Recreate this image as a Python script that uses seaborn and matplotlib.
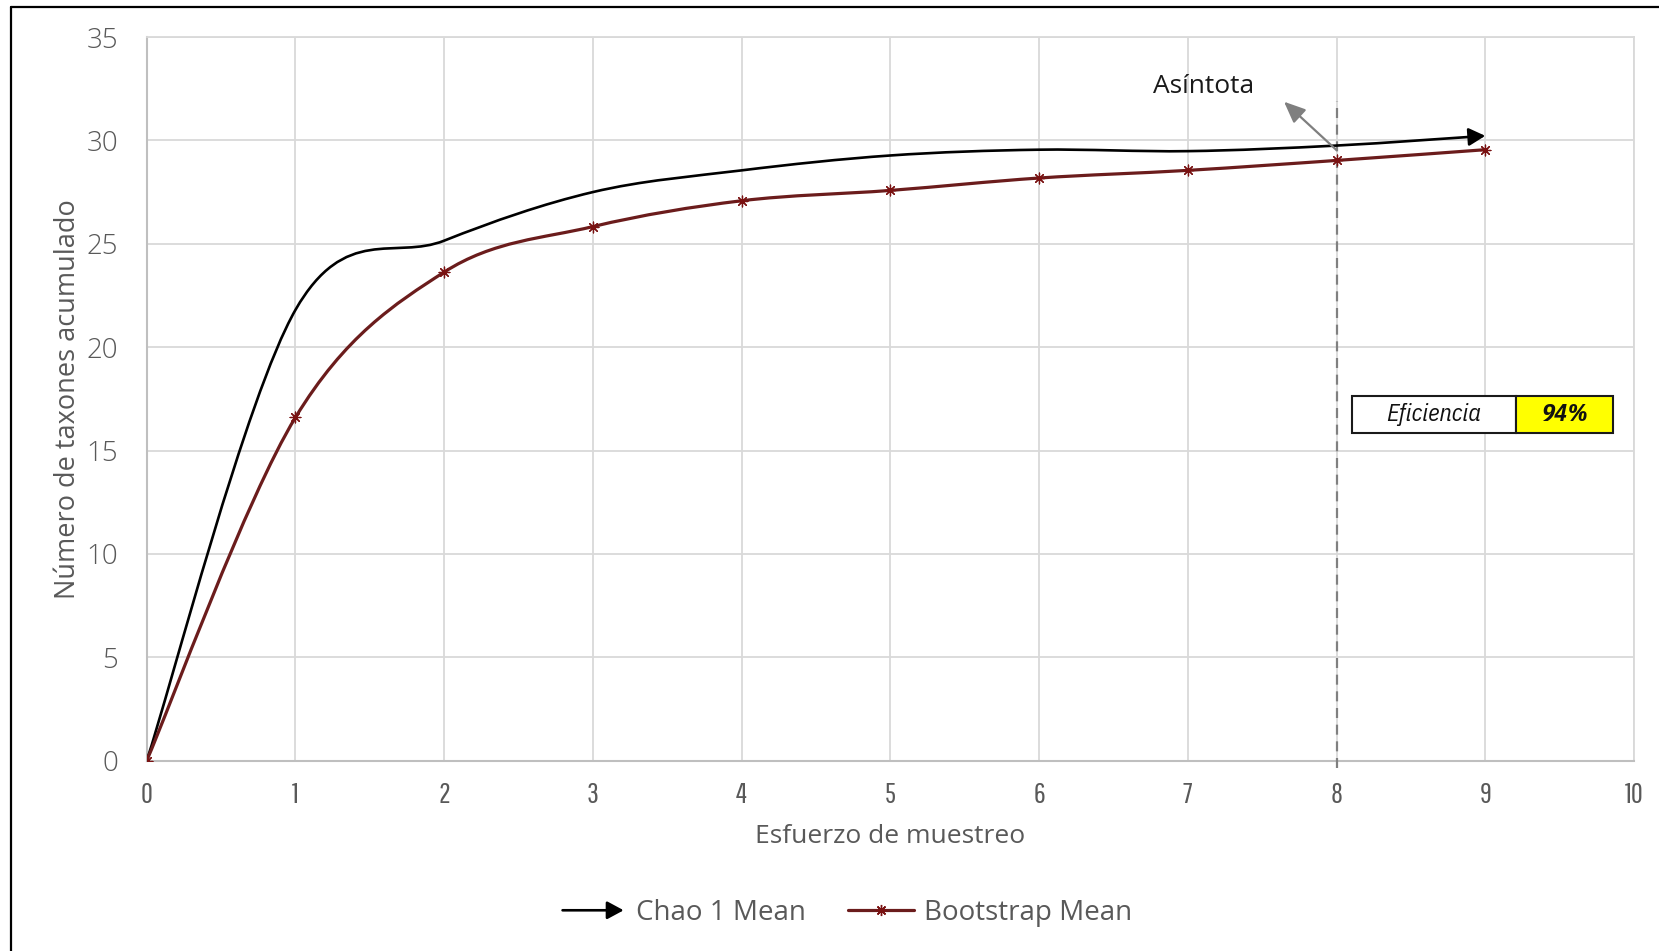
import numpy as np
import pandas as pd
import matplotlib
matplotlib.use("Agg")
import matplotlib.pyplot as plt
import seaborn as sns
from matplotlib.path import Path
from matplotlib.patches import PathPatch, FancyArrowPatch
from matplotlib.lines import Line2D
from matplotlib.legend_handler import HandlerBase

# ---------------- data ----------------
esfuerzo = [0, 1, 2, 3, 4, 5, 6, 7, 8, 9]
chao1_mean = [0, 21.8, 25.15, 27.5, 28.55, 29.27, 29.55, 29.48, 29.75, 30.22]
bootstrap_mean = [0, 16.6, 23.63, 25.83, 27.08, 27.58, 28.18, 28.55, 29.03, 29.55]
series_names = ["Chao 1 Mean", "Bootstrap Mean"]
x_ticks = list(range(0, 11))
y_ticks = list(range(0, 36, 5))
asintota_label = "Asíntota"
asintota_x = 8
eficiencia_labels = ["Eficiencia", "94%"]

df = pd.DataFrame({"esfuerzo": esfuerzo, "chao": chao1_mean, "boot": bootstrap_mean})

# ---------------- style ----------------
sns.set_theme(style="white")
plt.rcParams["font.family"] = ["Open Sans", "DejaVu Sans"]
TXT = "#595959"
GRID = "#D9D9D9"
CHAO_C = "#000000"
BOOT_C = "#6B1C1C"
TICKFONT = ["Pathway Gothic One", "Oswald", "IBM Plex Sans Condensed", "Open Sans", "DejaVu Sans"]
BOXFONT = ["IBM Plex Sans Condensed", "Open Sans", "DejaVu Sans"]

fig = plt.figure(figsize=(16.59, 9.51), dpi=100)
ax = fig.add_axes([146.7 / 1659, 1 - 760.7 / 951, (1634 - 146.7) / 1659, (760.7 - 37) / 951])


def smooth_path(xs, ys):
    pts = np.column_stack([xs, ys]).astype(float)
    n = len(pts)
    verts = [pts[0]]
    codes = [Path.MOVETO]
    for i in range(n - 1):
        p0 = pts[i - 1] if i > 0 else pts[i]
        p1 = pts[i]
        p2 = pts[i + 1]
        p3 = pts[i + 2] if i + 2 < n else pts[i + 1]
        verts += [p1 + (p2 - p0) / 6.0, p2 - (p3 - p1) / 6.0, p2]
        codes += [Path.CURVE4] * 3
    return Path(verts, codes)


ARROW = "-|>,head_length=0.5,head_width=0.27"

# Chao 1 curve with arrow head
chao_arrow = FancyArrowPatch(path=smooth_path(df["esfuerzo"], df["chao"]),
                             arrowstyle=ARROW, mutation_scale=20, color=CHAO_C, lw=1.9,
                             transform=ax.transData, zorder=4)
ax.add_patch(chao_arrow)

# Bootstrap curve + markers
boot_patch = PathPatch(smooth_path(df["esfuerzo"], df["boot"]), facecolor="none",
                       edgecolor=BOOT_C, lw=2.3, zorder=4, capstyle="round")
ax.add_patch(boot_patch)
sns.scatterplot(data=df, x="esfuerzo", y="boot", marker=(8, 2, 0), s=60,
                color="#7A1212", linewidth=0.9, ax=ax, zorder=5, legend=False)

# asymptote vertical dashed line
ax.plot([asintota_x, asintota_x], [-0.35, 31.9], color="#808080", lw=1.6,
        ls=(0, (4.5, 3)), zorder=3, clip_on=False)

# annotation arrow and text
ax.annotate("", xy=(7.647, 31.87), xytext=(8.0, 29.53),
            arrowprops=dict(arrowstyle="-|>,head_length=0.65,head_width=0.28",
                            color="#7F7F7F", lw=1.6, mutation_scale=20, shrinkA=0, shrinkB=0),
            zorder=6)
ax.text(7.109, 32.62, asintota_label, ha="center", va="center", fontsize=19,
        color="#1a1a1a")

# axes formatting
ax.set_xlim(0, 10)
ax.set_ylim(0, 35)
ax.set_xticks(x_ticks)
ax.set_yticks(y_ticks)
ax.grid(True, color=GRID, lw=1.3)
ax.set_axisbelow(True)
for s in ["top", "right"]:
    ax.spines[s].set_color(GRID)
    ax.spines[s].set_linewidth(1.3)
for s in ["left", "bottom"]:
    ax.spines[s].set_color("#BFBFBF")
    ax.spines[s].set_linewidth(1.5)
ax.tick_params(axis="both", length=0)
ax.tick_params(axis="y", pad=20.5, labelsize=20, labelcolor=TXT)
ax.tick_params(axis="x", pad=15, labelsize=21, labelcolor=TXT)
for lab in ax.get_xticklabels():
    lab.set_family(TICKFONT)
for lab in ax.get_yticklabels():
    lab.set_fontweight("light")

ax.set_xlabel("Esfuerzo de muestreo", fontsize=19, color=TXT)
ax.set_ylabel("Número de taxones acumulado", fontsize=19.5, color=TXT)
ax.xaxis.label.set_va("center")
ax.yaxis.label.set_va("center")
ax.xaxis.set_label_coords(0.5, (760.7 - 836.7) / 723.7)
ax.yaxis.set_label_coords((67.7 - 146.7) / 1487.3, 0.5)

# efficiency table
tbl = ax.table(cellText=[eficiencia_labels], cellColours=[["white", "#FFFF00"]],
               colWidths=[0.628, 0.372], cellLoc="center",
               bbox=[(1351.7 - 146.7) / 1487.3, (760.7 - 432.7) / 723.7,
                     (1612.7 - 1351.7) / 1487.3, 36.7 / 723.7])
tbl.auto_set_font_size(False)
for (r, c), cell in tbl.get_celld().items():
    cell.set_edgecolor("#1a1a1a")
    cell.set_linewidth(1.5)
    t = cell.get_text()
    t.set_fontsize(17.5)
    t.set_family(BOXFONT)
    t.set_fontstyle("italic")
    t.set_color("#111111")
    if c == 1:
        t.set_fontweight("bold")
tbl.set_zorder(7)


# legend
class ArrowHandler(HandlerBase):
    def create_artists(self, legend, orig_handle, xdescent, ydescent, width, height,
                       fontsize, trans):
        y = height / 2 - ydescent
        p = FancyArrowPatch((-xdescent, y), (width - xdescent, y),
                            arrowstyle=ARROW, mutation_scale=20, color=CHAO_C, lw=1.9,
                            transform=trans)
        return [p]


h_chao = Line2D([], [], color=CHAO_C, lw=1.9)
h_boot = Line2D([], [], color=BOOT_C, lw=2.3, marker=(8, 2, 0), markersize=8,
                markeredgecolor="#7A1212", markeredgewidth=1.0)
leg = fig.legend([h_chao, h_boot], series_names, handler_map={h_chao: ArrowHandler()},
                 loc="center", bbox_to_anchor=(846 / 1659, 1 - 913 / 951), ncol=2,
                 frameon=False, fontsize=20, handlelength=2.4, handletextpad=0.35,
                 columnspacing=1.5, labelcolor=TXT)

# outer frame (left and top edges)
fig.add_artist(Line2D([11 / 1659, 11 / 1659], [0, 1 - 7 / 951], transform=fig.transFigure,
                      color="black", lw=1.6))
fig.add_artist(Line2D([11 / 1659, 1], [1 - 7 / 951, 1 - 7 / 951], transform=fig.transFigure,
                      color="black", lw=1.6))

fig.savefig("out.png", dpi=100)
